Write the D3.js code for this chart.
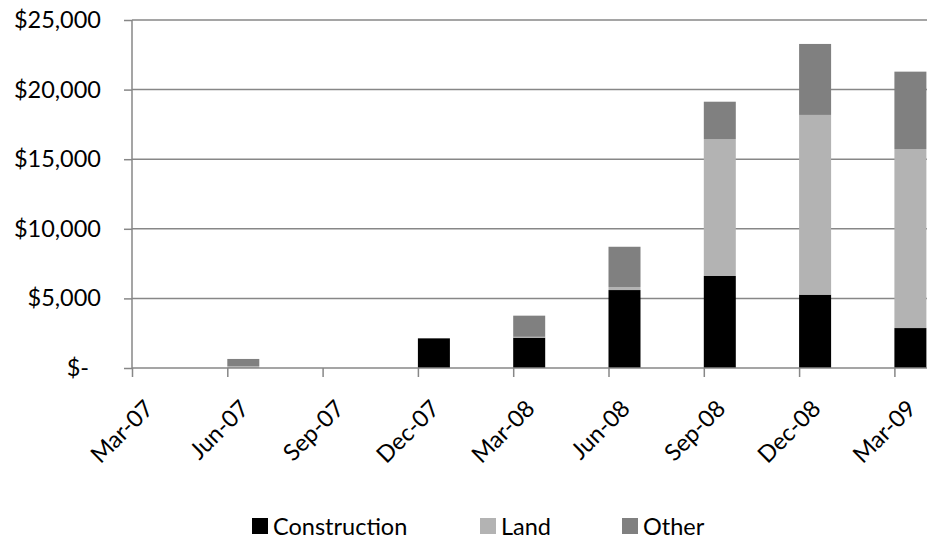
<!DOCTYPE html>
<html>
<head>
<meta charset="utf-8">
<script src="https://cdn.jsdelivr.net/npm/d3@7"></script>
<style>
  body { margin: 0; background: #fff; }
  svg text { font-family: Lato, "Open Sans", sans-serif; fill: #000; }
</style>
</head>
<body>
<svg id="chart" width="927" height="539"></svg>
<script>
// quarters on the axis
var quarters = ["Mar-07", "Jun-07", "Sep-07", "Dec-07", "Mar-08", "Jun-08", "Sep-08", "Dec-08", "Mar-09"];
// stacked series, in $
var construction = [0, 0, 0, 2130, 2180, 5600, 6610, 5270, 2870];
var land = [0, 140, 0, 0, 60, 220, 9840, 12910, 12860];
var other = [0, 510, 0, 0, 1520, 2890, 2680, 5100, 5560];
var seriesNames = ["Construction", "Land", "Other"];
var seriesColors = ["#000000", "#b3b3b3", "#808080"];
var yTicks = [0, 5000, 10000, 15000, 20000, 25000];

var svg = d3.select("#chart");
var plotLeft = 132, plotRight = 927, plotTop = 20, plotBottom = 368;
var fontSize = 23.5;

var x = d3.scalePoint().domain(quarters).range([plotLeft, plotLeft + 8 * 95.3]);
var y = d3.scaleLinear().domain([0, 25000]).range([plotBottom, plotTop]);
var barW = 32;

var rows = quarters.map(function (q, i) {
    return { q: q, Construction: construction[i], Land: land[i], Other: other[i] };
});
var stack = d3.stack().keys(seriesNames)(rows);

/* gridlines */
svg.append("g").selectAll("line").data(yTicks.slice(1)).join("line")
    .attr("x1", plotLeft).attr("x2", plotRight)
    .attr("y1", function (d) { return y(d); }).attr("y2", function (d) { return y(d); })
    .attr("stroke", "#878787").attr("stroke-width", 1.5);

/* bars */
svg.append("g").selectAll("g").data(stack).join("g")
    .attr("fill", function (d, i) { return seriesColors[i]; })
    .selectAll("rect").data(function (d) { return d; }).join("rect")
    .attr("x", function (d) { return x(d.data.q); })
    .attr("width", barW)
    .attr("y", function (d) { return y(d[1]); })
    .attr("height", function (d) { return y(d[0]) - y(d[1]); });

/* y axis */
var yAxis = d3.axisLeft(y).tickValues(yTicks).tickSize(8).tickPadding(23)
    .tickFormat(function (d) { return d === 0 ? "$-" : "$" + d3.format(",")(d); });
var gy = svg.append("g").attr("transform", "translate(" + plotLeft + ",0)").call(yAxis);
gy.select(".domain").attr("stroke", "#878787").attr("stroke-width", 1.5).attr("d", "M0," + plotTop + "V" + plotBottom);
gy.selectAll(".tick line").attr("stroke", "#878787").attr("stroke-width", 1.5);
gy.selectAll(".tick text").attr("font-size", fontSize).attr("font-family", "Lato")
    .attr("dx", function (d) { return d === 0 ? -12 : 0; }); // accounting-style zero keeps a trailing gap

/* x axis */
var xAxis = d3.axisBottom(x).tickSize(9).tickFormat("");
var gx = svg.append("g").attr("transform", "translate(0," + plotBottom + ")").call(xAxis);
gx.select(".domain").attr("stroke", "#878787").attr("stroke-width", 1.5).attr("d", "M" + plotLeft + ",0H" + plotRight);
gx.selectAll(".tick line").attr("stroke", "#878787").attr("stroke-width", 1.5);

svg.append("g").selectAll("text").data(quarters).join("text")
    .attr("transform", function (d) { return "translate(" + (x(d) + 23) + ",410) rotate(-45)"; })
    .attr("text-anchor", "end")
    .attr("font-size", fontSize)
    .text(function (d) { return d; });

/* legend */
var legendX = [252, 480, 622];
var lg = svg.append("g").selectAll("g").data(seriesNames).join("g")
    .attr("transform", function (d, i) { return "translate(" + legendX[i] + ",518)"; });
lg.append("rect").attr("width", 16).attr("height", 16)
    .attr("fill", function (d, i) { return seriesColors[i]; });
lg.append("text").attr("x", 21).attr("y", 16.5).attr("font-size", fontSize)
    .text(function (d) { return d; });
</script>
</body>
</html>
